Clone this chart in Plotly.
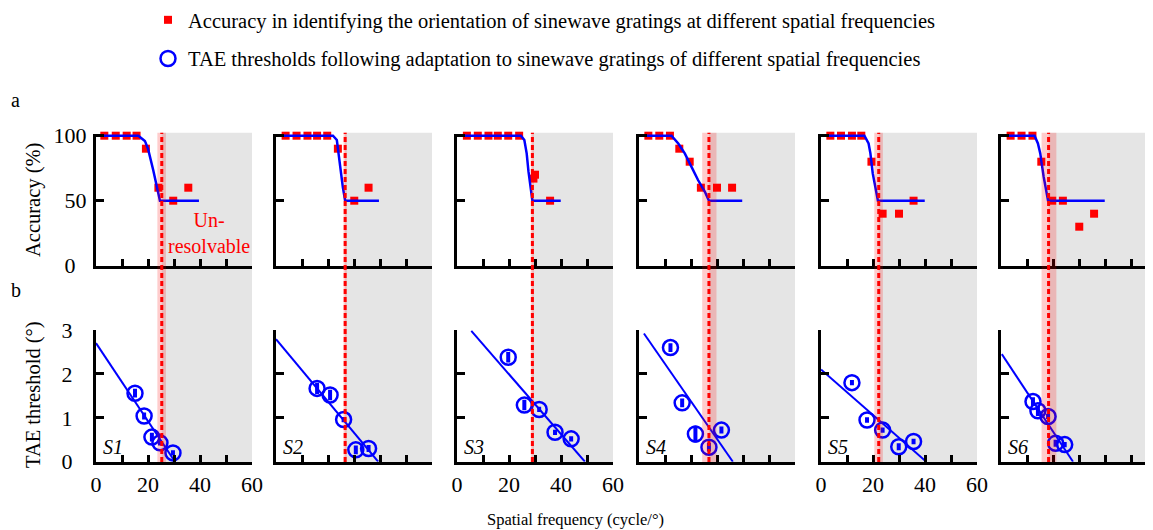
import plotly.graph_objects as go

# page is 1153x530; the figure sits 8 px in from the page corner (body margin)
PAGE_W, PAGE_H = 1153, 530
OFF = 8
W, H = PAGE_W - OFF, PAGE_H - OFF

subjects = ["S1", "S2", "S3", "S4", "S5", "S6"]

# ---- (a) accuracy data: spatial frequency (cycle/deg) vs accuracy (%)
acc_x = [
    [3.2, 7.6, 11.8, 15.6, 19.2, 24.0, 29.7, 35.5],
    [3.7, 7.9, 12.1, 15.8, 19.7, 23.8, 30.1, 35.6],
    [3.8, 8.0, 12.1, 15.7, 19.7, 23.9, 29.4, 30.0, 35.8],
    [3.6, 7.8, 11.9, 15.5, 19.5, 23.8, 30.0, 35.8],
    [3.6, 7.7, 11.9, 15.5, 19.4, 23.7, 30.0, 35.6],
    [3.7, 7.9, 12.1, 15.5, 19.7, 23.8, 30.1, 35.8],
]
acc_y = [
    [100, 100, 100, 100, 90, 60, 50, 60],
    [100, 100, 100, 100, 100, 90, 50, 60],
    [100, 100, 100, 100, 100, 100, 67, 70, 50],
    [100, 100, 100, 90, 80, 60, 60, 60],
    [100, 100, 100, 100, 80, 40, 40, 50],
    [100, 100, 100, 80, 50, 50, 30, 40],
]
# psychometric fit curves
fit_acc_x = [
    [0, 16.3, 18.8, 20.0, 22.0, 24.6, 39.6],
    [0, 21.9, 23.4, 24.0, 24.8, 25.7, 26.6, 39.6],
    [0, 24.6, 25.9, 26.8, 27.5, 28.2, 29.0, 39.9],
    [0, 12.5, 15.1, 17.6, 20.2, 22.7, 25.3, 26.9, 39.7],
    [0, 16.7, 18.3, 19.0, 19.9, 20.9, 21.9, 39.9],
    [0, 12.9, 14.2, 15.1, 16.4, 17.4, 18.1, 39.9],
]
fit_acc_y = [
    [100, 100, 96, 90, 73.6, 50, 50],
    [100, 100, 96.7, 86.4, 72, 60.5, 50, 50],
    [100, 100, 96.7, 86.4, 72.3, 60.8, 50, 50],
    [100, 100, 94, 86.4, 76, 65.9, 57, 50, 50],
    [100, 100, 94, 86.4, 71, 60.8, 50, 50],
    [100, 100, 94, 86.4, 68.5, 58.2, 50, 50],
]

# ---- (b) TAE thresholds (deg)
tae_x = [
    [15.0, 18.5, 21.5, 24.6, 29.6],
    [15.8, 20.8, 26.0, 30.7, 35.6],
    [19.7, 25.9, 31.6, 37.7, 43.9],
    [12.1, 16.6, 21.7, 26.9, 31.7],
    [11.9, 17.7, 23.7, 29.9, 35.6],
    [12.3, 14.2, 18.1, 21.0, 24.5],
]
tae_y = [
    [1.56, 1.04, 0.56, 0.43, 0.20],
    [1.67, 1.52, 0.96, 0.27, 0.30],
    [2.38, 1.29, 1.19, 0.67, 0.52],
    [2.60, 1.34, 0.63, 0.33, 0.72],
    [1.80, 0.95, 0.72, 0.34, 0.46],
    [1.37, 1.16, 1.03, 0.42, 0.39],
]
tae_err = [
    [0.10, 0.08, 0.10, 0.06, 0.06],
    [0.13, 0.12, 0.06, 0.10, 0.08],
    [0.12, 0.12, 0.06, 0.06, 0.06],
    [0.10, 0.10, 0.19, 0.10, 0.08],
    [0.06, 0.06, 0.06, 0.08, 0.06],
    [0.10, 0.12, 0.06, 0.08, 0.06],
]
fit_tae_x = [[0, 30.4], [0, 39.3], [5.5, 49.2], [1.9, 36.1], [0, 40.5], [0.3, 27.7]]
fit_tae_y = [[2.70, 0], [2.79, 0], [2.98, 0], [2.92, 0], [2.10, 0], [2.45, 0]]

# resolution threshold and its confidence band
thr = [25.3, 26.6, 29.0, 26.9, 22.2, 18.3]
thr_lo = [23.6, 26.0, 28.4, 24.3, 20.5, 15.6]
thr_hi = [26.9, 27.2, 29.6, 29.8, 23.8, 21.3]

legend_acc = "Accuracy in identifying the orientation of sinewave gratings at different spatial frequencies"
legend_tae = "TAE thresholds following adaptation to sinewave gratings of different spatial frequencies"

FONT = "'Liberation Serif', 'Times New Roman', Times, serif"
RED = "#ff0000"
BLUE = "#0000ff"

# layout in page pixels
col_left_px = [96, 276, 457, 639, 821, 1001]
col_w_px = 156
top_px = (134, 265.7)
bot_px = (330, 461.7)


def px(p):
    return (p - OFF) / W


def py(p):
    return 1 - (p - OFF) / H


fig = go.Figure()
layout = dict(
    template="none",
    width=W, height=H,
    margin=dict(l=0, r=0, t=0, b=0, pad=0, autoexpand=False),
    paper_bgcolor="white", plot_bgcolor="rgba(0,0,0,0)",
    font=dict(family=FONT, size=20, color="black"),
    showlegend=True,
    legend=dict(x=px(148), y=py(0), xanchor="left", yanchor="top",
                font=dict(family=FONT, size=20.5), traceorder="grouped",
                tracegroupgap=9, bgcolor="rgba(0,0,0,0)", borderwidth=0),
)
shapes = []
annotations = []

axis_common = dict(showline=True, linecolor="black", linewidth=3, mirror=False,
                   ticks="inside", tickcolor="black", tickwidth=3,
                   showgrid=False, zeroline=False, automargin=False,
                   tickfont=dict(family=FONT, size=22, color="black"))

for i in range(6):
    xt, xb = 2 * i + 1, 2 * i + 2
    L = col_left_px[i]
    R = min(L + col_w_px, PAGE_W)
    xr = [0, 60 * (R - L) / col_w_px]
    dom_x = [px(L), min(px(R), 1.0)]
    # top axes
    layout[f"xaxis{xt}"] = dict(axis_common, domain=dom_x, range=xr, anchor=f"y{xt}",
                                tickvals=[0, 10, 20, 30, 40, 50, 60], ticklen=7,
                                showticklabels=False)
    ytop_hi = 100 * (top_px[1] - top_px[0]) / 130
    layout[f"yaxis{xt}"] = dict(axis_common, domain=[py(top_px[1]), py(top_px[0])],
                                range=[0, ytop_hi], anchor=f"x{xt}",
                                tickvals=[0, 50, 100], ticktext=["0\u2002", "50", "100"],
                                ticklen=8, showticklabels=(i == 0), ticklabelstandoff=2)
    # bottom axes
    show_xlab = i in (0, 2, 4)
    layout[f"xaxis{xb}"] = dict(axis_common, domain=dom_x, range=xr, anchor=f"y{xb}",
                                tickvals=[0, 10, 20, 30, 40, 50, 60],
                                ticktext=["0", "", "20", "", "40", "", "60"],
                                ticklen=7, showticklabels=show_xlab, ticklabelstandoff=1)
    layout[f"yaxis{xb}"] = dict(axis_common, domain=[py(bot_px[1]), py(bot_px[0])],
                                range=[0, 3], anchor=f"x{xb}",
                                tickvals=[0, 1, 2, 3], ticklen=8,
                                showticklabels=(i == 0), ticklabelstandoff=16)

    # accuracy markers
    fig.add_trace(go.Scatter(x=acc_x[i], y=acc_y[i], mode="markers",
                             marker=dict(symbol="square", size=8, color=RED),
                             xaxis=f"x{xt}", yaxis=f"y{xt}", cliponaxis=False,
                             name=legend_acc, legendgroup="acc", showlegend=(i == 0)))
    fig.add_trace(go.Scatter(x=fit_acc_x[i], y=fit_acc_y[i], mode="lines",
                             line=dict(color=BLUE, width=2.5),
                             xaxis=f"x{xt}", yaxis=f"y{xt}", cliponaxis=False,
                             showlegend=False))
    # TAE
    fig.add_trace(go.Scatter(x=fit_tae_x[i], y=fit_tae_y[i], mode="lines",
                             line=dict(color=BLUE, width=2),
                             xaxis=f"x{xb}", yaxis=f"y{xb}", cliponaxis=False,
                             showlegend=False))
    fig.add_trace(go.Scatter(x=tae_x[i], y=tae_y[i], mode="markers",
                             marker=dict(symbol="circle-open", size=15, color=BLUE,
                                         line=dict(color=BLUE, width=2.5)),
                             error_y=dict(type="data", array=tae_err[i], color=BLUE,
                                          thickness=4, width=0),
                             xaxis=f"x{xb}", yaxis=f"y{xb}", cliponaxis=False,
                             name=legend_tae, legendgroup="tae", showlegend=(i == 0)))

    # unresolvable region, confidence band and threshold
    y0p, y1p = py(462), py(132.7)
    shapes.append(dict(type="rect", xref=f"x{xt}", yref="paper", x0=thr[i], x1=60,
                       y0=y0p, y1=y1p, fillcolor="#e5e5e5", line=dict(width=0),
                       layer="below"))
    shapes.append(dict(type="rect", xref=f"x{xt}", yref="paper", x0=thr_lo[i], x1=thr_hi[i],
                       y0=y0p, y1=y1p, fillcolor="rgba(255,0,0,0.2)", line=dict(width=0),
                       layer="above"))
    shapes.append(dict(type="line", xref=f"x{xt}", yref="paper", x0=thr[i], x1=thr[i],
                       y0=y0p, y1=y1p, line=dict(color=RED, width=3, dash="5px,3px"),
                       layer="above"))

    annotations.append(dict(text=f"<i>{subjects[i]}</i>", xref=f"x{xb}", yref=f"y{xb}",
                            x=2.0, y=0.34, xanchor="left", yanchor="middle", showarrow=False,
                            font=dict(family=FONT, size=20, color="black")))

annotations += [
    dict(text="Un-<br>resolvable", xref="x1", yref="y1", x=43.3, y=25.5, showarrow=False,
         xanchor="center", yanchor="middle", font=dict(family=FONT, size=20, color=RED)),
    dict(text="a", xref="paper", yref="paper", x=px(9), y=py(100), xanchor="left",
         yanchor="middle", showarrow=False, font=dict(family=FONT, size=20)),
    dict(text="b", xref="paper", yref="paper", x=px(9), y=py(290), xanchor="left",
         yanchor="middle", showarrow=False, font=dict(family=FONT, size=20)),
    dict(text="Accuracy (%)", xref="paper", yref="paper", x=px(33), y=py(200),
         textangle=-90, xanchor="center", yanchor="middle", showarrow=False,
         font=dict(family=FONT, size=20.5)),
    dict(text="TAE threshold (°)", xref="paper", yref="paper", x=px(33), y=py(395),
         textangle=-90, xanchor="center", yanchor="middle", showarrow=False,
         font=dict(family=FONT, size=20.5)),
    dict(text="Spatial frequency (cycle/°)", xref="paper", yref="paper", x=px(575),
         y=py(519), xanchor="center", yanchor="middle", showarrow=False,
         font=dict(family=FONT, size=16.5)),
]

layout["shapes"] = shapes
layout["annotations"] = annotations
fig.update_layout(**layout)
fig.write_html("out.html")
